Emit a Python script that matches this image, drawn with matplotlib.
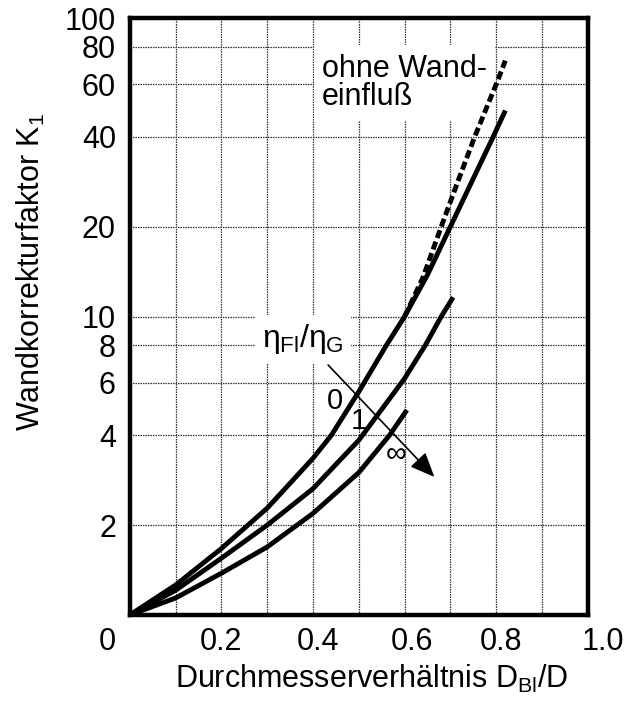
"""Wandkorrekturfaktor K1 over Durchmesserverhaeltnis, log scale."""

import matplotlib
matplotlib.use('Agg')
import matplotlib.pyplot as plt
import matplotlib.transforms as mtransforms
from matplotlib import rcParams

rcParams['font.family'] = ['Liberation Sans', 'DejaVu Sans']
rcParams['mathtext.fontset'] = 'custom'
rcParams['mathtext.rm'] = 'Liberation Sans'
rcParams['mathtext.it'] = 'Liberation Sans'
rcParams['mathtext.bf'] = 'Liberation Sans:bold'

# (x = D_Bl/D, y = K1)
x_eta0 = [0.0, 0.1, 0.2, 0.3, 0.4, 0.44, 0.5, 0.56, 0.6, 0.65, 0.7, 0.75, 0.79, 0.82]
k_eta0 = [1.0, 1.26, 1.67, 2.28, 3.35, 4.0, 5.6, 8.0, 10.0, 13.8, 20.0, 29.0, 39.0, 49.0]

x_eta1 = [0.0, 0.1, 0.2, 0.3, 0.4, 0.5, 0.6, 0.645, 0.68, 0.706]
k_eta1 = [1.0, 1.21, 1.55, 2.0, 2.65, 3.85, 6.2, 8.0, 10.0, 11.6]

x_etainf = [0.0, 0.1, 0.2, 0.3, 0.4, 0.5, 0.567, 0.605]
k_etainf = [1.0, 1.14, 1.38, 1.69, 2.19, 3.0, 4.0, 4.86]

x_ohne = [0.6, 0.64, 0.68, 0.715, 0.753, 0.80, 0.82]
k_ohne = [10.0, 13.5, 20.0, 28.0, 40.0, 60.0, 72.0]

x_ticks = [0, 0.2, 0.4, 0.6, 0.8, 1.0]
x_ticklabels = ['0', '0.2', '0.4', '0.6', '0.8', '1.0']
y_ticks = [2, 4, 6, 8, 10, 20, 40, 60, 80, 100]
x_grid = [0.1, 0.2, 0.3, 0.4, 0.5, 0.6, 0.7, 0.8, 0.9]

fig = plt.figure(figsize=(6.24, 7.01), dpi=100, facecolor='white')
ax = fig.add_axes([0.208, 0.1227, 0.734, 0.8516])

ax.set_yscale('log')
ax.set_xlim(0, 1.0)
ax.set_ylim(1, 100)

# dotted grid
grid_style = dict(color='#333333', linewidth=0.9, linestyle=(0, (1.2, 0.8)), zorder=1)
for gx in x_grid:
    ax.axvline(gx, **grid_style)
for gy in y_ticks[:-1]:
    ax.axhline(gy, **grid_style)

# curves
ax.plot(x_eta0, k_eta0, color='black', lw=3.5, solid_capstyle='butt', zorder=4)
ax.plot(x_eta1, k_eta1, color='black', lw=3.5, solid_capstyle='butt', zorder=4)
ax.plot(x_etainf, k_etainf, color='black', lw=3.5, solid_capstyle='butt', zorder=4)
ax.plot(x_ohne, k_ohne, color='black', lw=3.5, dashes=(1.7, 0.8), zorder=4)

# annotations
ax.text(0.42, 76, 'ohne Wand-\neinfluß', ha='left', va='top', fontsize=22,
        linespacing=0.95, zorder=3,
        bbox=dict(facecolor='white', edgecolor='none', pad=6))
ax.text(0.378, 8.4, r'$\eta_{\mathrm{Fl}}/\eta_{\mathrm{G}}$', ha='center', va='center',
        fontsize=23, zorder=3,
        bbox=dict(facecolor='white', edgecolor='none', pad=5))
ax.text(0.447, 5.2, '0', ha='center', va='center', fontsize=21, zorder=5)
ax.text(0.50, 4.45, '1', ha='center', va='center', fontsize=21, zorder=5)
ax.text(0.582, 3.45, '∞', ha='center', va='center', fontsize=21, zorder=5)
ax.annotate('', xy=(0.665, 2.9), xytext=(0.433, 6.88),
            arrowprops=dict(arrowstyle='-|>,head_length=0.75,head_width=0.32',
                            color='black', lw=1.2, mutation_scale=20,
                            shrinkA=0, shrinkB=0), zorder=5)

# axes styling
for side in ['left', 'right', 'top', 'bottom']:
    ax.spines[side].set_linewidth(3.2)
    ax.spines[side].set_zorder(6)

ax.set_xticks(x_ticks)
ax.set_xticklabels(x_ticklabels)
ax.set_yticks(y_ticks)
ax.set_yticklabels([str(v) for v in y_ticks])
ax.minorticks_off()
ax.tick_params(axis='both', length=0, labelsize=22)
ax.tick_params(axis='x', pad=9)
ax.tick_params(axis='y', pad=10)

# scan has the x labels slightly off the grid, nudge them
xlabels = ax.get_xticklabels()
offsets = [-14, 0, 5, 7, 5, -6]
for lab, dx in zip(xlabels, offsets):
    lab.set_transform(lab.get_transform() +
                      mtransforms.ScaledTranslation(dx / 100, 0, fig.dpi_scale_trans))
xlabels[0].set_horizontalalignment('right')
xlabels[-1].set_horizontalalignment('left')

ax.set_xlabel(r'Durchmesserverhältnis D$_{\mathrm{Bl}}$/D', fontsize=22)
ax.xaxis.set_label_coords(0.528, -0.08)
ax.set_ylabel(r'Wandkorrekturfaktor K$_1$', fontsize=22)
ax.yaxis.set_label_coords(-0.181, 0.575)

fig.savefig('out.png', dpi=100, facecolor='white')
